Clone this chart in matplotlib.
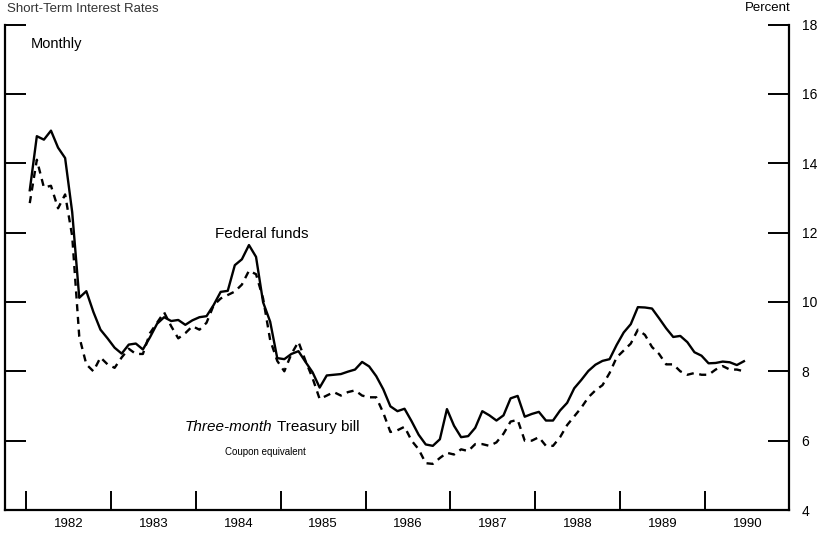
import numpy as np
import matplotlib
matplotlib.use("Agg")
import matplotlib.pyplot as plt

plt.rcParams["font.family"] = ["Liberation Sans", "DejaVu Sans"]

# monthly values, Jan 1982 - Jun 1990 (percent)
fed_funds = [
    13.22, 14.78, 14.68, 14.94, 14.45, 14.15, 12.59, 10.12, 10.31, 9.71, 9.20, 8.95,
    8.68, 8.51, 8.77, 8.80, 8.63, 8.98, 9.37, 9.56, 9.45, 9.48, 9.34, 9.47,
    9.56, 9.59, 9.91, 10.29, 10.32, 11.06, 11.23, 11.64, 11.30, 9.99, 9.43, 8.38,
    8.35, 8.50, 8.58, 8.27, 7.97, 7.53, 7.88, 7.90, 7.92, 7.99, 8.05, 8.27,
    8.14, 7.86, 7.48, 6.99, 6.85, 6.92, 6.56, 6.17, 5.89, 5.85, 6.04, 6.91,
    6.43, 6.10, 6.13, 6.37, 6.85, 6.73, 6.58, 6.73, 7.22, 7.29, 6.69, 6.77,
    6.83, 6.58, 6.58, 6.87, 7.09, 7.51, 7.75, 8.01, 8.19, 8.30, 8.35, 8.76,
    9.12, 9.36, 9.85, 9.84, 9.81, 9.53, 9.24, 8.99, 9.02, 8.84, 8.55, 8.45,
    8.23, 8.24, 8.28, 8.26, 8.18, 8.29,
]
tbill = [
    12.85, 14.10, 13.30, 13.35, 12.70, 13.10, 11.90, 9.00, 8.20, 8.00, 8.40, 8.20,
    8.10, 8.40, 8.65, 8.50, 8.50, 9.10, 9.40, 9.70, 9.30, 8.95, 9.10, 9.30,
    9.20, 9.40, 9.90, 10.10, 10.20, 10.30, 10.50, 10.90, 10.80, 10.10, 8.90, 8.30,
    8.00, 8.50, 8.85, 8.30, 7.80, 7.20, 7.30, 7.40, 7.30, 7.40, 7.45, 7.30,
    7.25, 7.25, 6.80, 6.25, 6.30, 6.40, 6.00, 5.75, 5.35, 5.33, 5.50, 5.65,
    5.60, 5.75, 5.70, 5.90, 5.90, 5.85, 5.95, 6.20, 6.55, 6.60, 6.00, 6.00,
    6.10, 5.85, 5.85, 6.10, 6.45, 6.70, 6.95, 7.25, 7.45, 7.60, 7.95, 8.40,
    8.60, 8.80, 9.20, 9.05, 8.70, 8.50, 8.20, 8.20, 8.00, 7.90, 7.95, 7.90,
    7.90, 8.05, 8.15, 8.05, 8.05, 8.00,
]
years = list(range(1982, 1991))
y_ticks = [4, 6, 8, 10, 12, 14, 16, 18]

t = 1982 + (np.arange(len(fed_funds)) + 0.5) / 12

fig = plt.figure(figsize=(8.22, 5.39), dpi=100)
ax = fig.add_axes([0.0061, 0.0538, 0.9538, 0.9007])

ax.plot(t, fed_funds, color="black", lw=1.7)
ax.plot(t, tbill, color="black", lw=1.7, ls=(0, (3, 2.4)))

ax.set_xlim(1981.75, 1990.99)
ax.set_ylim(4, 18)

for s in ["left", "right", "bottom"]:
    ax.spines[s].set_linewidth(1.6)
ax.spines["top"].set_visible(False)

# year boundaries as ticks, labels in the middle of each year
ax.set_xticks(years)
ax.set_xticklabels([])
ax.set_xticks([y + 0.5 for y in years], minor=True)
ax.set_xticklabels([str(y) for y in years], minor=True, fontsize=9.5)
ax.tick_params(axis="x", which="major", direction="in", length=14, width=1.4)
ax.tick_params(axis="x", which="minor", length=0, pad=6)

ax.set_yticks(y_ticks)
ax.yaxis.tick_right()
ax.tick_params(axis="y", which="major", direction="in", length=15, width=1.4,
               left=True, right=True, labelleft=False, labelright=True,
               labelsize=10, pad=9)

ax.text(1982.05, 17.43, "Monthly", fontsize=10.5, va="center", ha="left")
ax.text(1984.22, 11.95, "Federal funds", fontsize=11, va="center", ha="left")
t1 = ax.text(1983.87, 6.39, "Three-month", fontsize=11, va="center", ha="left",
             style="italic")
ax.annotate(" Treasury bill", xy=(1, 0), xycoords=t1, va="bottom", ha="left",
            fontsize=11)
ax.text(1984.34, 5.67, "Coupon equivalent", fontsize=7, va="center", ha="left")

fig.text(0.962, 0.985, "Percent", fontsize=9.5, ha="right", va="center")
fig.text(0.009, 0.978, "Short-Term Interest Rates", fontsize=9.5, ha="left",
         va="baseline", color="#333333")

fig.savefig("out.png", dpi=100)
